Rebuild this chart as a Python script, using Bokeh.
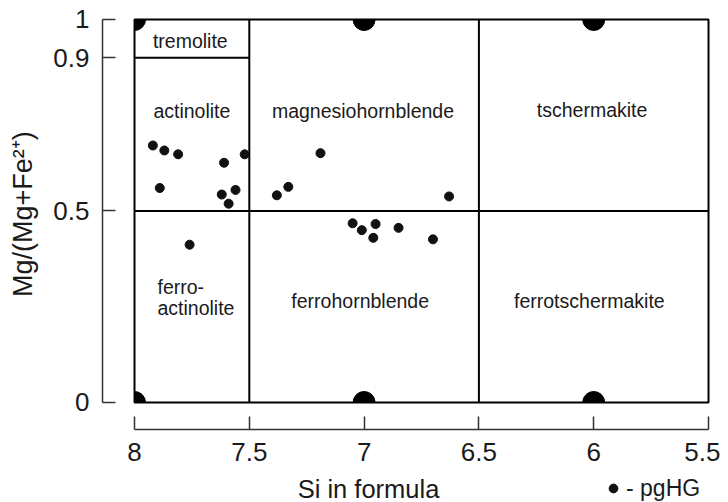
from bokeh.plotting import figure
from bokeh.layouts import column, row
from bokeh.models import Range1d, FixedTicker, Label, ColumnDataSource, Legend, LegendItem
from bokeh.core.properties import value, field
from bokeh.embed import file_html
from bokeh.resources import INLINE
import math

# ---- data: pgHG amphibole analyses (Si apfu, Mg/(Mg+Fe2+)) ----
si_apfu = [7.92, 7.87, 7.81, 7.61, 7.52, 7.89, 7.62, 7.56, 7.59, 7.76,
           7.38, 7.33, 7.19,
           7.05, 7.01, 6.95, 6.96, 6.85, 6.70, 6.63]
mg_number = [0.671, 0.658, 0.648, 0.626, 0.648, 0.560, 0.543, 0.555, 0.519, 0.412,
             0.541, 0.563, 0.651,
             0.468, 0.450, 0.466, 0.430, 0.456, 0.426, 0.538]

# ---- classification field ----
field_si = [8.0, 5.5]
field_mg = [0.0, 1.0]
div_x0 = [7.5, 6.5, 8.0, 8.0]
div_y0 = [0.0, 0.0, 0.5, 0.9]
div_x1 = [7.5, 6.5, 5.5, 7.5]
div_y1 = [1.0, 1.0, 0.5, 0.9]

# end-member markers on the field border
em_si = [8.0, 7.0, 6.0, 8.0, 7.0, 6.0]
em_mg = [1.0, 1.0, 1.0, 0.0, 0.0, 0.0]
em_start = [1.5 * math.pi, math.pi, math.pi, 0.0, 0.0, 0.0]
em_end = [2 * math.pi, 2 * math.pi, 2 * math.pi, 0.5 * math.pi, math.pi, math.pi]

# region names
reg_text = ["tremolite", "actinolite", "magnesiohornblende", "tschermakite",
            "ferro-", "actinolite", "ferrohornblende", "ferrotschermakite"]
reg_si = [7.757, 7.750, 7.005, 6.007, 7.900, 7.900, 7.017, 6.019]
reg_mg = [0.944, 0.762, 0.762, 0.763, 0.302, 0.246, 0.266, 0.265]
reg_align = ["center", "center", "center", "center", "left", "left", "center", "center"]

# ticks
x_ticks = [8, 7.5, 7, 6.5, 6, 5.5]
x_tick_labels = ["8", "7.5", "7", "6.5", "6", "5.5"]
y_ticks = [0, 0.5, 0.9, 1]
y_tick_labels = ["0", "0.5", "0.9", "1"]

FONT = "Liberation Sans"
TXT = "#1a1a1a"
AX = "#333333"

y_rng = Range1d(-0.0705, 1.0052)

# ---- main diagram ----
p = figure(width=680, height=474,
           x_range=Range1d(8.1394, 5.4826), y_range=y_rng,
           output_backend="svg", toolbar_location=None,
           min_border_left=62, min_border_right=8, min_border_top=17, min_border_bottom=45)
p.outline_line_color = None
p.grid.visible = False
p.background_fill_color = "white"
p.border_fill_color = "white"

for ax, ticks, labels in ((p.xaxis, x_ticks, x_tick_labels), (p.yaxis, y_ticks, y_tick_labels)):
    ax.ticker = FixedTicker(ticks=ticks)
    ax.major_label_overrides = {t: l for t, l in zip(ticks, labels)}
    ax.axis_line_color = AX
    ax.axis_line_width = 1.5
    ax.major_tick_line_color = AX
    ax.major_tick_line_width = 1.5
    ax.major_tick_in = 13
    ax.major_tick_out = 0
    ax.minor_tick_line_color = None
    ax.major_label_text_font = FONT
    ax.major_label_text_font_size = "26px"
    ax.major_label_text_color = TXT
p.xaxis.bounds = (5.5, 8)
p.yaxis.bounds = (0, 1)
p.xaxis.major_label_standoff = 13
p.yaxis.major_label_standoff = 13

# field border and dividers
p.quad(left=[field_si[0]], right=[field_si[1]], bottom=[field_mg[0]], top=[field_mg[1]],
       fill_color=None, line_color="black", line_width=2)
p.segment(x0=div_x0, y0=div_y0, x1=div_x1, y1=div_y1, line_color="black", line_width=2)

# end-member markers (clipped half/quarter discs)
p.wedge(x=em_si, y=em_mg, radius=11, radius_units="screen",
        start_angle=em_start, end_angle=em_end, color="black")

# region names
src = ColumnDataSource(dict(x=reg_si, y=reg_mg, t=reg_text, a=reg_align))
p.text(x="x", y="y", text="t", source=src, text_align=field("a"), text_baseline="alphabetic",
       text_font=value(FONT), text_font_size="19.5px", text_color=TXT)

# data
pts_src = ColumnDataSource(dict(si=si_apfu, mg=mg_number))
p.scatter("si", "mg", source=pts_src, size=9, color="#111111")

# ---- left strip: y-axis title ----
pl = figure(width=40, height=474, x_range=Range1d(0, 40), y_range=y_rng,
            output_backend="svg", toolbar_location=None,
            x_axis_location=None, y_axis_location=None,
            min_border_left=0, min_border_right=0, min_border_top=17, min_border_bottom=45)
pl.outline_line_color = None
pl.grid.visible = False
pl.border_fill_color = "white"
pl.add_layout(Label(x=22, y=0.492, text="Mg/(Mg+Fe²⁺)", text_align="center",
                    text_baseline="alphabetic", angle=math.pi / 2, text_font=FONT,
                    text_font_size="27px", text_color=TXT))

# ---- bottom strip: x-axis title and legend (pixel coordinates) ----
p2 = figure(width=680, height=28, x_range=Range1d(102, 712), y_range=Range1d(0, 28),
            output_backend="svg", toolbar_location=None,
            x_axis_location=None, y_axis_location=None,
            min_border_left=62, min_border_right=8, min_border_top=0, min_border_bottom=0)
p2.outline_line_color = None
p2.grid.visible = False
p2.background_fill_color = "white"
p2.border_fill_color = "white"

p2.add_layout(Label(x=368, y=14, text="Si in formula", text_align="center",
                    text_baseline="alphabetic", text_font=FONT, text_font_size="25.5px",
                    text_color=TXT))

# legend key renderer: the same series (its points fall outside this strip's view)
key = p2.scatter("si", "mg", source=pts_src, size=9, color="#111111")
legend = Legend(items=[LegendItem(label="- pgHG", renderers=[key])],
                location=(500, -1), orientation="horizontal",
                glyph_width=22, glyph_height=30, label_standoff=2,
                padding=0, margin=0, border_line_color=None, background_fill_alpha=0,
                label_text_font=FONT, label_text_font_size="23px", label_text_color=TXT)
p2.add_layout(legend)

layout = row(pl, column(p, p2, spacing=0), spacing=0)
open("out.html", "w").write(file_html(layout, INLINE))
